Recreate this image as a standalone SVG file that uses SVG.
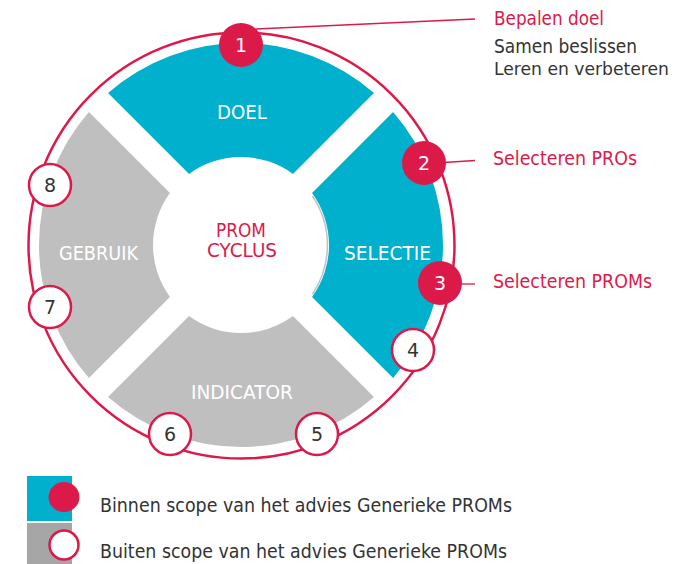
<svg xmlns="http://www.w3.org/2000/svg" width="684" height="564" viewBox="0 0 684 564">
<defs>
<style>
.seg-in{fill:#00B0CD}
.seg-out{fill:#BFBFBF}
.lbl{font-family:"DejaVu Sans",Verdana,sans-serif;font-size:19px;fill:#FFFFFF}
.ctr{font-family:"DejaVu Sans",Verdana,sans-serif;font-size:19px;fill:#DC1A4A}
.num-in{fill:#DC1A4A}
.num-out{fill:#FFFFFF;stroke:#DC1A4A;stroke-width:2.5}
.ntxt{font-family:"DejaVu Sans",Verdana,sans-serif;font-size:19px;text-anchor:middle}
.ntw{fill:#FFFFFF}
.ntd{fill:#333333}
.side{font-family:"DejaVu Sans",Verdana,sans-serif;font-size:19.5px}
.red{fill:#DC1A4A}
.dark{fill:#333333}
.lead{stroke:#DC1A4A;stroke-width:1.3;fill:none}
.leg{font-family:"DejaVu Sans",Verdana,sans-serif;font-size:20px;fill:#333333}
</style>
</defs>
<rect width="684" height="564" fill="#FFFFFF"/>

<g id="segments">
<g id="doel">
<path class="seg-in" d="M 108.03 92.94 A 202 202 0 0 1 373.97 92.94 L 292.94 173.96 A 88 88 0 0 0 189.06 173.96 Z"/>
<text class="lbl" x="217" y="119" textLength="50" lengthAdjust="spacingAndGlyphs">DOEL</text>
</g>
<g id="selectie">
<path class="seg-in" d="M 393.06 112.03 A 202 202 0 0 1 393.06 377.97 L 312.04 296.94 A 88 88 0 0 0 312.04 193.06 Z"/>
<path d="M 312.5 196 A 88 88 0 0 1 312.5 294" fill="none" stroke="#9a9a9a" stroke-width="1.5" opacity="0.6"/>
<text class="lbl" x="344" y="260" textLength="87" lengthAdjust="spacingAndGlyphs">SELECTIE</text>
</g>
<g id="indicator">
<path class="seg-out" d="M 373.97 397.06 A 202 202 0 0 1 108.03 397.06 L 189.06 316.04 A 88 88 0 0 0 292.94 316.04 Z"/>
<text class="lbl" x="191" y="399" textLength="102" lengthAdjust="spacingAndGlyphs">INDICATOR</text>
</g>
<g id="gebruik">
<path class="seg-out" d="M 88.94 377.97 A 202 202 0 0 1 88.94 112.03 L 169.96 193.06 A 88 88 0 0 0 169.96 296.94 Z"/>
<text class="lbl" x="59" y="260" textLength="79" lengthAdjust="spacingAndGlyphs">GEBRUIK</text>
</g>
<g id="center">
<text class="ctr" x="216" y="237" textLength="50" lengthAdjust="spacingAndGlyphs">PROM</text>
<text class="ctr" x="207" y="257" textLength="70" lengthAdjust="spacingAndGlyphs">CYCLUS</text>
</g>
</g>

<g id="connectors">
<circle cx="241.5" cy="245.5" r="213" fill="none" stroke="#DC1A4A" stroke-width="2.5"/>
<line class="lead" x1="256" y1="29" x2="475" y2="19"/>
<line class="lead" x1="444" y1="162.5" x2="475" y2="160.5"/>
<line class="lead" x1="461" y1="284" x2="475" y2="284"/>
</g>

<g id="markers">
<g id="n1"><circle class="num-in" cx="241" cy="45" r="22"/><text class="ntxt ntw" x="241" y="52">1</text></g>
<g id="n2"><circle class="num-in" cx="424" cy="163" r="22"/><text class="ntxt ntw" x="424" y="170">2</text></g>
<g id="n3"><circle class="num-in" cx="440" cy="283" r="22"/><text class="ntxt ntw" x="440" y="290">3</text></g>
<g id="n4"><circle class="num-out" cx="413" cy="350" r="21"/><text class="ntxt ntd" x="413" y="357">4</text></g>
<g id="n5"><circle class="num-out" cx="317" cy="434" r="21"/><text class="ntxt ntd" x="317" y="441">5</text></g>
<g id="n6"><circle class="num-out" cx="170" cy="434" r="21"/><text class="ntxt ntd" x="170" y="441">6</text></g>
<g id="n7"><circle class="num-out" cx="50" cy="307" r="21"/><text class="ntxt ntd" x="50" y="314">7</text></g>
<g id="n8"><circle class="num-out" cx="50" cy="185" r="21"/><text class="ntxt ntd" x="50" y="192">8</text></g>
</g>

<g id="side-labels">
<text class="side red" x="494" y="25" textLength="110" lengthAdjust="spacingAndGlyphs">Bepalen doel</text>
<text class="side dark" x="494" y="53" textLength="143" lengthAdjust="spacingAndGlyphs">Samen beslissen</text>
<text class="side dark" x="494" y="75" font-size="17.5" style="font-size:17.5px" textLength="175" lengthAdjust="spacingAndGlyphs">Leren en verbeteren</text>
<text class="side red" x="493" y="165" textLength="144" lengthAdjust="spacingAndGlyphs">Selecteren PROs</text>
<text class="side red" x="493" y="288" textLength="159" lengthAdjust="spacingAndGlyphs">Selecteren PROMs</text>
</g>

<g id="legend">
<rect x="27" y="476" width="45" height="45" fill="#00B0CD"/>
<rect x="27" y="523" width="45" height="41" fill="#A6A6A6"/>
<ellipse cx="64" cy="497" rx="15.5" ry="15" fill="#DC1A4A"/>
<circle cx="64" cy="545" r="14.5" fill="#FFFFFF" stroke="#DC1A4A" stroke-width="2.5"/>
<text class="leg" x="100" y="512" textLength="412" lengthAdjust="spacingAndGlyphs">Binnen scope van het advies Generieke PROMs</text>
<text class="leg" x="100" y="558" textLength="407" lengthAdjust="spacingAndGlyphs">Buiten scope van het advies Generieke PROMs</text>
</g>
</svg>
